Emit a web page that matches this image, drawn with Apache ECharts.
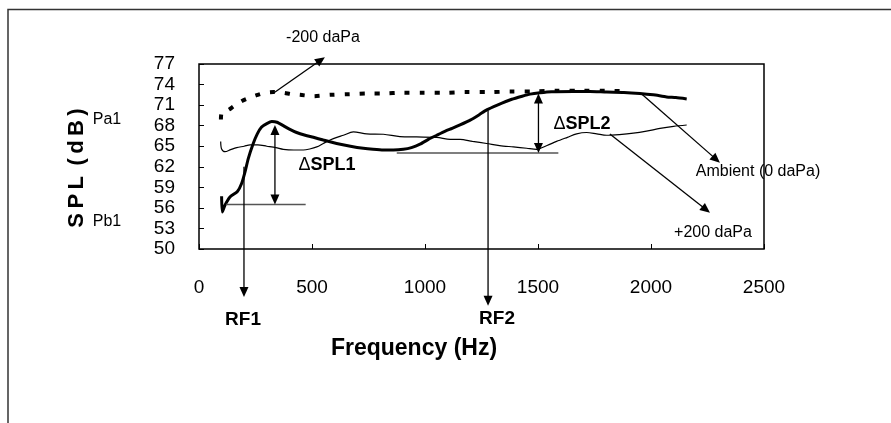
<!DOCTYPE html>
<html><head><meta charset="utf-8">
<script src="https://cdn.jsdelivr.net/npm/echarts@6/dist/echarts.min.js"></script>
<style>html,body{margin:0;padding:0;background:#fff}#c{width:891px;height:423px}</style>
</head><body><div id="c"></div>
<script>
// ---- data ----
const xMin = 0, xMax = 2500, xStep = 500;
const yMin = 50, yMax = 77, yStep = 3;

const ambientFreq = [100,103,115,137,170,189,204,218,240,258,277,300,322,345,373,400,432,470,506,550,609,670,727,770,816,860,904,940,978,1015,1052,1090,1120,1155,1200,1240,1273,1320,1384,1430,1465,1509,1560,1656,1730,1804,1880,1951,2010,2069,2110,2158];
const ambientSPL  = [57.7,55.4,56.4,57.6,58.4,59.6,61.3,63.2,65.4,66.8,67.8,68.3,68.6,68.5,68.0,67.5,67.0,66.6,66.3,65.9,65.4,65.0,64.7,64.55,64.45,64.45,64.55,64.8,65.3,66.0,66.6,67.2,67.6,68.1,68.8,69.6,70.3,71.0,71.85,72.3,72.6,72.8,72.95,73.0,73.0,72.9,72.85,72.7,72.5,72.2,72.1,71.9];

const minus200Freq = [97,100,130,152,190,226,260,292,330,373,410,447,506,580,668,750,816,900,993,1081,1180,1280,1380,1480,1580,1700,1800,1900];
const minus200SPL  = [68.9,69.9,70.3,70.8,71.6,72.1,72.5,72.8,72.9,72.8,72.6,72.5,72.3,72.5,72.6,72.7,72.7,72.8,72.8,72.8,72.9,72.9,73.0,73.0,73.1,73.1,73.1,73.0];

const plus200Freq = [96,100,115,140,167,200,226,260,300,340,373,420,462,490,521,550,580,610,639,683,742,816,889,963,1052,1111,1155,1210,1273,1330,1391,1450,1494,1540,1582,1630,1671,1715,1760,1804,1860,1922,1980,2040,2100,2158];
const plus200SPL  = [65.7,64.6,64.2,64.5,64.8,65.0,65.2,65.2,65.0,64.8,64.55,64.45,64.45,64.6,64.9,65.4,65.9,66.3,66.6,67.1,66.8,66.75,66.4,66.35,66.3,66.0,66.0,65.7,65.4,65.1,64.9,64.7,64.55,65.1,65.7,66.3,66.8,67.0,66.8,66.6,66.7,66.9,67.2,67.6,67.9,68.1];

// annotations in data units (Hz, dB)
const refLineFrom  = [120, 875];
const refLineTo    = [472, 1590];
const refLineLevel = [56.5, 64.0];
const deltaFreq    = [336, 1502];
const deltaTop     = [68.1, 72.7];
const deltaBottom  = [56.5, 64.0];
const deltaNames   = ['SPL1', 'SPL2'];
const rfFreq       = [199, 1279];
const rfFromSPL    = [62.0, 70.2];
const rfToSPL      = [43.0, 41.7];
const rfNames      = ['RF1', 'RF2'];
const leaderFrom   = [[332, 72.8], [1960, 72.6], [1818, 66.8]];
const leaderTip    = [[557, 78.0], [2305, 62.6], [2261, 55.3]];
const leaderNames  = ['-200 daPa', 'Ambient (0 daPa)', '+200 daPa'];

// ---- chart ----
const SANS = '"Liberation Sans",Arial,Helvetica,sans-serif';
const zip = (xs, ys) => xs.map((x, i) => [x, ys[i]]);

const chart = echarts.init(document.getElementById('c'), null, {renderer: 'canvas'});
const option = {
  animation: false,
  backgroundColor: '#fff',
  grid: {left: 199, right: 127, top: 64, bottom: 174, show: true, borderColor: '#000', borderWidth: 1.5, backgroundColor: 'transparent'},
  xAxis: {
    type: 'value', min: xMin, max: xMax, interval: xStep,
    axisLine: {show: false},
    axisTick: {show: true, inside: true, length: 5, lineStyle: {color: '#000', width: 1}},
    splitLine: {show: false},
    axisLabel: {margin: 29, fontFamily: SANS, fontSize: 19, color: '#000', formatter: v => String(v)}
  },
  yAxis: {
    type: 'value', min: yMin, max: yMax, interval: yStep,
    axisLine: {show: false},
    axisTick: {show: true, inside: true, length: 5, lineStyle: {color: '#000', width: 1}},
    splitLine: {show: false},
    axisLabel: {margin: 24, fontFamily: SANS, fontSize: 19, color: '#000', formatter: v => String(v)}
  },
  series: [
    {name: 'Ambient (0 daPa)', type: 'line', data: zip(ambientFreq, ambientSPL), showSymbol: false, smooth: 0.2,
     lineStyle: {color: '#000', width: 3}, z: 3},
    {name: '-200 daPa', type: 'line', data: zip(minus200Freq, minus200SPL), showSymbol: false, smooth: 0.3,
     lineStyle: {color: '#000', width: 4, type: [5, 10], cap: 'butt'}, z: 4},
    {name: '+200 daPa', type: 'line', data: zip(plus200Freq, plus200SPL), showSymbol: false, smooth: 0.3,
     lineStyle: {color: '#000', width: 1.2}, z: 2}
  ]
};
chart.setOption(option);

const P = (x, y) => chart.convertToPixel({gridIndex: 0}, [x, y]);
const els = [];
function seg(p0, p1, w, color) {
  els.push({type: 'line', z: 100, shape: {x1: p0[0], y1: p0[1], x2: p1[0], y2: p1[1]}, style: {stroke: color, lineWidth: w}});
}
function head(tip, from, L, W) {
  const dx = tip[0] - from[0], dy = tip[1] - from[1];
  const d = Math.hypot(dx, dy), ux = dx / d, uy = dy / d;
  const bx = tip[0] - ux * L, by = tip[1] - uy * L;
  els.push({type: 'polygon', z: 101, shape: {points: [[tip[0], tip[1]], [bx - uy * W, by + ux * W], [bx + uy * W, by - ux * W]]}, style: {fill: '#000'}});
  return [bx + ux * 2, by + uy * 2];
}
function arrow(from, tip) { const b = head(tip, from, 10, 4.5); seg(from, b, 1.3, '#000'); }
function text(str, x, y, opts) {
  els.push({type: 'text', z: 102, x: x, y: y,
    style: Object.assign({text: str, fill: '#000', align: 'center', verticalAlign: 'middle', fontFamily: SANS, fontSize: 16}, opts || {})});
}

// outer frame
els.push({type: 'rect', z: 0, shape: {x: 8, y: 9.5, width: 1000, height: 1000}, style: {fill: 'none', stroke: '#333', lineWidth: 1.5}});

// reference levels
refLineLevel.forEach((lv, i) => seg(P(refLineFrom[i], lv), P(refLineTo[i], lv), 1.5, '#555'));
// delta arrows
deltaFreq.forEach((f, i) => {
  const a = P(f, deltaTop[i]), b = P(f, deltaBottom[i]);
  const ha = head(a, b, 10, 4.5), hb = head(b, a, 10, 4.5);
  seg(ha, hb, 1.3, '#000');
});
// RF arrows
rfFreq.forEach((f, i) => arrow(P(f, rfFromSPL[i]), P(f, rfToSPL[i])));
// leader arrows
leaderFrom.forEach((p, i) => arrow(P(p[0], p[1]), P(leaderTip[i][0], leaderTip[i][1])));

// texts
text(leaderNames[0], 323, 38);
text(leaderNames[1], 758, 172);
text(leaderNames[2], 713, 233);
text('Pa1', 107, 120);
text('Pb1', 107, 222);
const rich = {d: {fontFamily: SANS, fontSize: 18, fontWeight: 'normal', fill: '#000'}, s: {fontFamily: SANS, fontSize: 18, fontWeight: 'bold', fill: '#000'}};
text('{d|\u0394}{s|' + deltaNames[0] + '}', 327, 165, {rich: rich});
text('{d|\u0394}{s|' + deltaNames[1] + '}', 582, 124, {rich: rich});
text(rfNames[0], 243, 320, {fontWeight: 'bold', fontSize: 19});
text(rfNames[1], 497, 319, {fontWeight: 'bold', fontSize: 19});
text('Frequency (Hz)', 414, 349, {fontWeight: 'bold', fontSize: 23});
els.push({type: 'text', z: 102, x: 77, y: 168, rotation: Math.PI / 2,
  style: {text: 'S\u2009P\u2009L\u2009 (\u2009d\u2009B\u2009)', fill: '#000', align: 'center', verticalAlign: 'middle', fontFamily: SANS, fontWeight: 'bold', fontSize: 22}});

chart.setOption({graphic: {elements: els}});
</script>
</body></html>
